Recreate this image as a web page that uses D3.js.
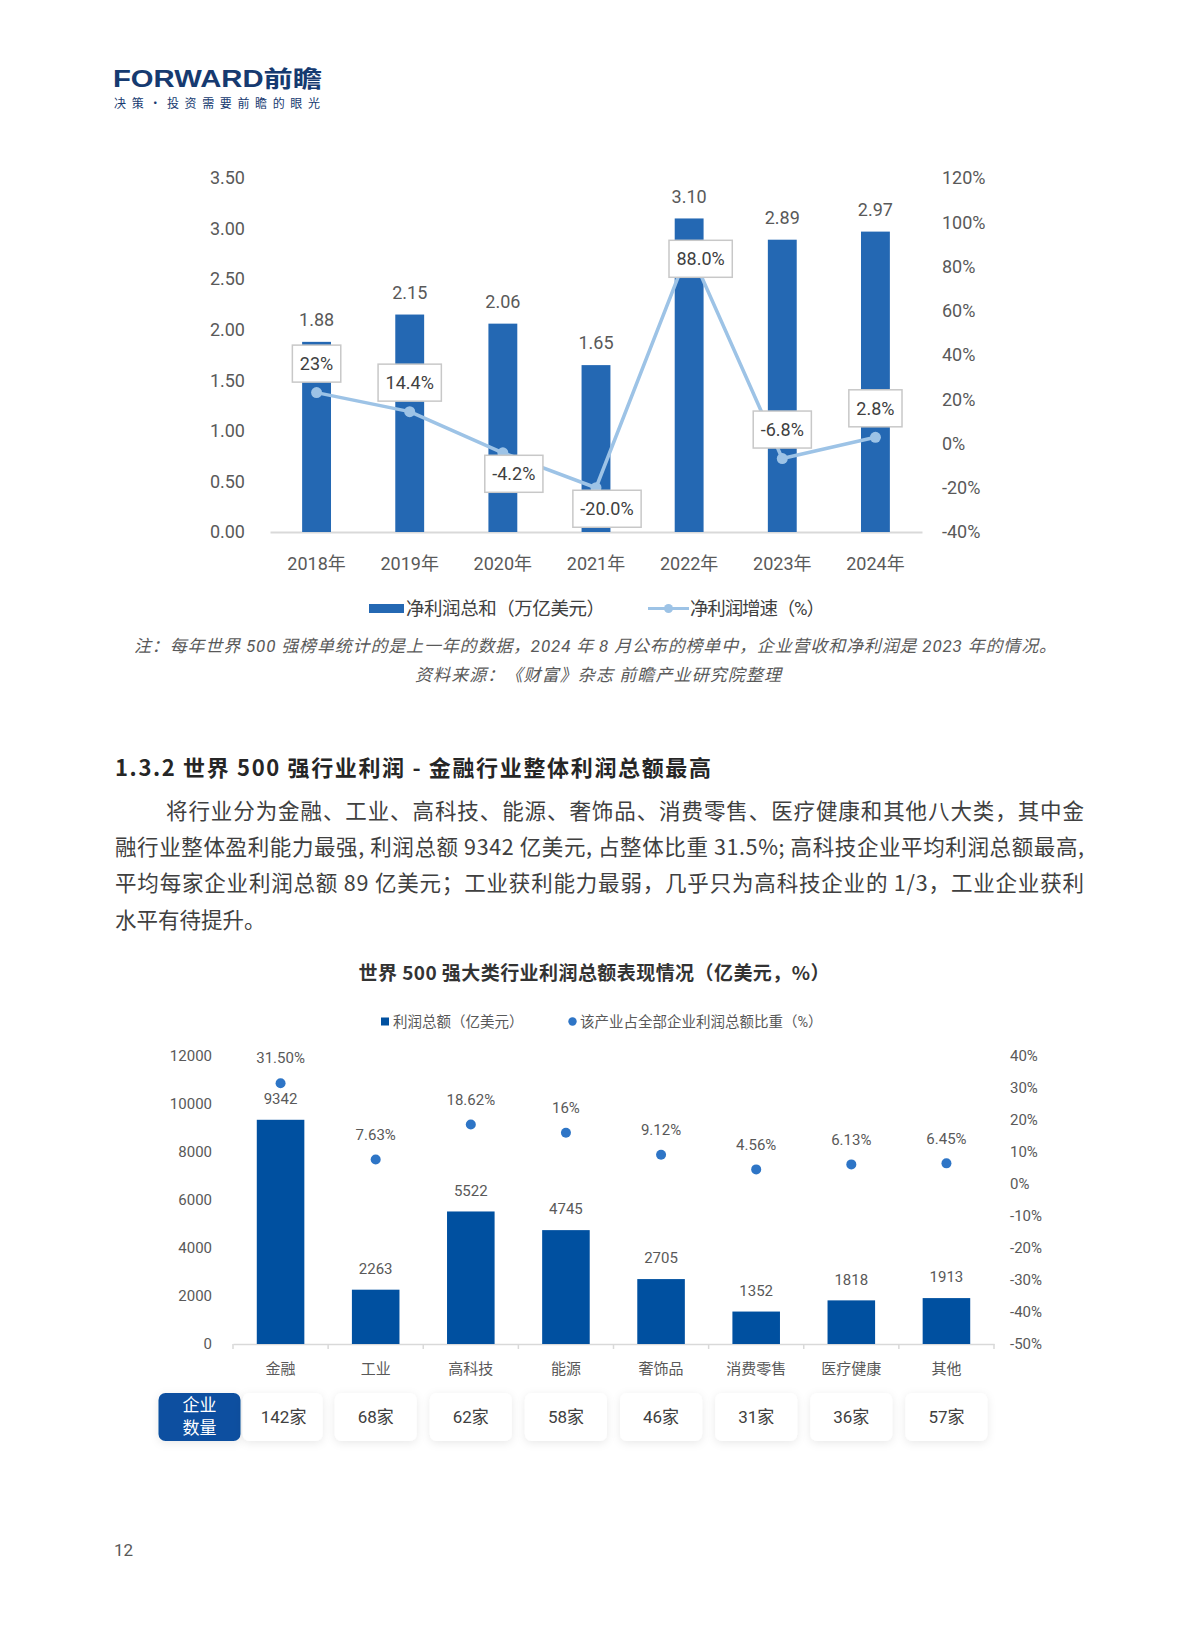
<!DOCTYPE html>
<html>
<head>
<meta charset="utf-8">
<script src="https://cdn.jsdelivr.net/npm/d3@7"></script>
<style>
  html, body { margin: 0; padding: 0; background: #ffffff; }
  svg { display: block; font-family: Roboto, "Noto Sans CJK SC", "Noto Sans", sans-serif; }
</style>
</head>
<body>
<svg id="page" width="1200" height="1628"></svg>
<script>
// ---------- Chart 1 data ----------
const years = ["2018年", "2019年", "2020年", "2021年", "2022年", "2023年", "2024年"];
const profitTotal = [1.88, 2.15, 2.06, 1.65, 3.10, 2.89, 2.97];
const profitGrowth = [23, 14.4, -4.2, -20.0, 88.0, -6.8, 2.8];
const growthLabels = ["23%", "14.4%", "-4.2%", "-20.0%", "88.0%", "-6.8%", "2.8%"];
const growthLabelSide = ["above", "above", "below", "below", "center", "above", "above"];
const leftTicks1 = [0, 0.5, 1, 1.5, 2, 2.5, 3, 3.5];
const rightTicks1 = [-40, -20, 0, 20, 40, 60, 80, 100, 120];
const legend1 = ["净利润总和（万亿美元）", "净利润增速（%）"];

// ---------- Chart 2 data ----------
const industries = ["金融", "工业", "高科技", "能源", "奢饰品", "消费零售", "医疗健康", "其他"];
const industryProfit = [9342, 2263, 5522, 4745, 2705, 1352, 1818, 1913];
const industryShare = [31.5, 7.63, 18.62, 16, 9.12, 4.56, 6.13, 6.45];
const shareLabels = ["31.50%", "7.63%", "18.62%", "16%", "9.12%", "4.56%", "6.13%", "6.45%"];
const companyCounts = [142, 68, 62, 58, 46, 31, 36, 57];
const leftTicks2 = [0, 2000, 4000, 6000, 8000, 10000, 12000];
const rightTicks2 = [-50, -40, -30, -20, -10, 0, 10, 20, 30, 40];
const legend2 = ["利润总额（亿美元）", "该产业占全部企业利润总额比重（%）"];

// ---------- Texts ----------
const noteText = "注：每年世界 500 强榜单统计的是上一年的数据，2024 年 8 月公布的榜单中，企业营收和净利润是 2023 年的情况。";
const sourceText = "资料来源：《财富》杂志 前瞻产业研究院整理";
const headingText = "1.3.2 世界 500 强行业利润 - 金融行业整体利润总额最高";
const paragraphLines = [
  "将行业分为金融、工业、高科技、能源、奢饰品、消费零售、医疗健康和其他八大类，其中金",
  "融行业整体盈利能力最强, 利润总额 9342 亿美元, 占整体比重 31.5%; 高科技企业平均利润总额最高,",
  "平均每家企业利润总额 89 亿美元；工业获利能力最弱，几乎只为高科技企业的 1/3，工业企业获利",
  "水平有待提升。"
];
const chart2Title = "世界 500 强大类行业利润总额表现情况（亿美元，%）";

const svg = d3.select("#page");
const defs = svg.append("defs");
const shadow = defs.append("filter").attr("id", "shadow")
  .attr("x", "-30%").attr("y", "-30%").attr("width", "160%").attr("height", "160%");
shadow.append("feDropShadow").attr("dx", 0).attr("dy", 2).attr("stdDeviation", 4)
  .attr("flood-color", "#000").attr("flood-opacity", 0.09);

// ---------- Logo ----------
const logo = svg.append("g");
logo.append("text").attr("x", 113).attr("y", 87)
  .attr("textLength", 209).attr("lengthAdjust", "spacingAndGlyphs")
  .style("font-family", "'Liberation Sans', 'Noto Sans CJK SC', sans-serif")
  .style("font-weight", 700).style("font-size", "23px").style("fill", "#163a70")
  .text("FORWARD前瞻");
logo.append("text").attr("x", 114).attr("y", 107.5)
  .attr("textLength", 206).attr("lengthAdjust", "spacing")
  .style("font-family", "'Noto Sans CJK SC', sans-serif")
  .style("font-size", "12px").style("fill", "#163a70")
  .text("决策·投资需要前瞻的眼光");

// ---------- Chart 1 ----------
const c1 = svg.append("g");
const x1 = d3.scaleBand().domain(years).range([270, 922]).paddingInner(0.69).paddingOuter(0.345);
const y1 = d3.scaleLinear().domain([0, 3.5]).range([532, 178]);
const y1r = d3.scaleLinear().domain([-40, 120]).range([532, 178]);
const textCol1 = "#595959";

const ax1l = c1.append("g").attr("transform", "translate(245,0)")
  .call(d3.axisLeft(y1).tickValues(leftTicks1).tickFormat(d3.format(".2f")).tickSize(0).tickPadding(0));
const ax1r = c1.append("g").attr("transform", "translate(942,0)")
  .call(d3.axisRight(y1r).tickValues(rightTicks1).tickFormat(d => d + "%").tickSize(0).tickPadding(0));
const ax1b = c1.append("g").attr("transform", "translate(0,532)")
  .call(d3.axisBottom(x1).tickSize(0).tickSizeOuter(0).tickPadding(25));
[ax1l, ax1r].forEach(a => a.select(".domain").remove());
ax1b.select(".domain").attr("stroke", "#d9d9d9").attr("stroke-width", 2);
[ax1l, ax1r, ax1b].forEach(a => a.selectAll("text")
  .style("font-size", "18px").style("fill", textCol1).style("font-family", "Roboto, 'Noto Sans CJK SC', sans-serif"));

c1.selectAll("rect.bar").data(profitTotal).join("rect").attr("class", "bar")
  .attr("x", (d, i) => x1(years[i])).attr("width", x1.bandwidth())
  .attr("y", d => y1(d)).attr("height", d => y1(0) - y1(d))
  .attr("fill", "#2468b3");

c1.selectAll("text.barval").data(profitTotal).join("text").attr("class", "barval")
  .attr("x", (d, i) => x1(years[i]) + x1.bandwidth() / 2)
  .attr("y", d => y1(d) - 22).attr("dy", "0.35em")
  .attr("text-anchor", "middle").style("font-size", "18px").style("fill", textCol1)
  .text(d => d.toFixed(2));

const cx1 = i => x1(years[i]) + x1.bandwidth() / 2;
c1.append("path").datum(profitGrowth)
  .attr("d", d3.line().x((d, i) => cx1(i)).y(d => y1r(d)))
  .attr("fill", "none").attr("stroke", "#9dc3e6").attr("stroke-width", 3.5)
  .attr("stroke-linejoin", "round");
c1.selectAll("circle.pt").data(profitGrowth).join("circle").attr("class", "pt")
  .attr("cx", (d, i) => cx1(i)).attr("cy", d => y1r(d)).attr("r", 5.5)
  .attr("fill", "#9dc3e6");

const labelOffset = {
  above: [0, -29],
  below: [11, 21],
  center: [11.5, 10]
};
profitGrowth.forEach((v, i) => {
  const off = labelOffset[growthLabelSide[i]];
  const lx = cx1(i) + off[0];
  const ly = y1r(v) + off[1];
  const g = c1.append("g");
  const rect = g.append("rect");
  const t = g.append("text").attr("x", lx).attr("y", ly).attr("dy", "0.35em")
    .attr("text-anchor", "middle").style("font-size", "18px").style("fill", "#404040")
    .text(growthLabels[i]);
  const w = t.node().getComputedTextLength() + 15;
  rect.attr("x", lx - w / 2).attr("y", ly - 18.5).attr("width", w).attr("height", 37)
    .attr("fill", "#fff").attr("stroke", "#c8c8c8").attr("stroke-width", 1.5);
});

// legend 1
const lg1 = c1.append("g");
const lgY = 608.5;
lg1.append("rect").attr("x", 369).attr("y", lgY - 4.5).attr("width", 35).attr("height", 9).attr("fill", "#2468b3");
lg1.append("text").attr("x", 406).attr("y", lgY).attr("dy", "0.35em")
  .attr("textLength", 199).attr("lengthAdjust", "spacing")
  .style("font-size", "18.5px").style("fill", "#404040").text(legend1[0]);
lg1.append("line").attr("x1", 648).attr("x2", 689).attr("y1", lgY).attr("y2", lgY)
  .attr("stroke", "#9dc3e6").attr("stroke-width", 3);
lg1.append("circle").attr("cx", 668.5).attr("cy", lgY).attr("r", 4.5).attr("fill", "#9dc3e6");
lg1.append("text").attr("x", 690).attr("y", lgY).attr("dy", "0.35em")
  .attr("textLength", 135).attr("lengthAdjust", "spacing")
  .style("font-size", "18.5px").style("fill", "#404040").text(legend1[1]);

// note + source
svg.append("text").attr("x", 595).attr("y", 652).attr("text-anchor", "middle")
  .attr("textLength", 922).attr("lengthAdjust", "spacing")
  .style("font-size", "17px").style("font-style", "italic").style("fill", "#595959")
  .text(noteText);
svg.append("text").attr("x", 598).attr("y", 681).attr("text-anchor", "middle")
  .attr("textLength", 366).attr("lengthAdjust", "spacing")
  .style("font-size", "17px").style("font-style", "italic").style("fill", "#595959")
  .text(sourceText);

// heading + paragraph
svg.append("text").attr("x", 115).attr("y", 776)
  .attr("textLength", 596).attr("lengthAdjust", "spacing")
  .style("font-family", "'Noto Sans CJK SC', sans-serif")
  .style("font-size", "22px").style("font-weight", 700).style("fill", "#262626")
  .text(headingText);
const paraStarts = [166, 115, 115, 115];
const paraYs = [819, 855, 891, 928];
paragraphLines.forEach((line, i) => {
  const t = svg.append("text").attr("x", paraStarts[i]).attr("y", paraYs[i])
    .style("font-family", "'Noto Sans CJK SC', sans-serif")
    .style("font-size", "21.5px").style("fill", "#404040").text(line);
  if (i < paragraphLines.length - 1) {
    t.attr("textLength", 1084 - paraStarts[i]).attr("lengthAdjust", "spacing");
  }
});

// ---------- Chart 2 ----------
const c2 = svg.append("g");
c2.append("text").attr("x", 594).attr("y", 973).attr("dy", "0.35em").attr("text-anchor", "middle")
  .attr("textLength", 471).attr("lengthAdjust", "spacing")
  .style("font-family", "'Noto Sans CJK SC', sans-serif")
  .style("font-size", "19px").style("font-weight", 700).style("fill", "#333333")
  .text(chart2Title);

// legend 2
c2.append("rect").attr("x", 381).attr("y", 1017.5).attr("width", 8).attr("height", 8).attr("fill", "#0050a0");
c2.append("text").attr("x", 393).attr("y", 1021.5).attr("dy", "0.35em")
  .style("font-size", "14.5px").style("fill", "#595959").text(legend2[0]);
c2.append("circle").attr("cx", 572.5).attr("cy", 1021.5).attr("r", 4.2).attr("fill", "#2e75c6");
c2.append("text").attr("x", 580).attr("y", 1021.5).attr("dy", "0.35em")
  .style("font-size", "14.5px").style("fill", "#595959").text(legend2[1]);

const x2 = d3.scaleBand().domain(industries).range([233, 994]).paddingInner(0.5).paddingOuter(0.25);
const y2 = d3.scaleLinear().domain([0, 12000]).range([1344, 1056]);
const y2r = d3.scaleLinear().domain([-50, 40]).range([1344, 1056]);
const textCol2 = "#595959";

const ax2l = c2.append("g").attr("transform", "translate(212,0)")
  .call(d3.axisLeft(y2).tickValues(leftTicks2).tickFormat(d3.format("d")).tickSize(0).tickPadding(0));
const ax2r = c2.append("g").attr("transform", "translate(1010,0)")
  .call(d3.axisRight(y2r).tickValues(rightTicks2).tickFormat(d => d + "%").tickSize(0).tickPadding(0));
const ax2b = c2.append("g").attr("transform", "translate(0,1344)")
  .call(d3.axisBottom(x2).tickSize(0).tickSizeOuter(0).tickPadding(19));
[ax2l, ax2r].forEach(a => a.select(".domain").remove());
ax2b.select(".domain").attr("stroke", "#d9d9d9").attr("stroke-width", 1.5);
[ax2l, ax2r, ax2b].forEach(a => a.selectAll("text")
  .style("font-size", "15px").style("fill", textCol2).style("font-family", "Roboto, 'Noto Sans CJK SC', sans-serif"));
// tick marks at category boundaries
const boundaries = d3.range(industries.length + 1).map(k => 233 + k * x2.step());
c2.selectAll("line.btick").data(boundaries).join("line").attr("class", "btick")
  .attr("x1", d => d).attr("x2", d => d).attr("y1", 1344).attr("y2", 1349)
  .attr("stroke", "#d9d9d9").attr("stroke-width", 1.5);

c2.selectAll("rect.bar2").data(industryProfit).join("rect").attr("class", "bar2")
  .attr("x", (d, i) => x2(industries[i])).attr("width", x2.bandwidth())
  .attr("y", d => y2(d)).attr("height", d => y2(0) - y2(d))
  .attr("fill", "#0050a0");
const cx2 = i => x2(industries[i]) + x2.bandwidth() / 2;
c2.selectAll("text.val2").data(industryProfit).join("text").attr("class", "val2")
  .attr("x", (d, i) => cx2(i)).attr("y", d => y2(d) - 21).attr("dy", "0.35em")
  .attr("text-anchor", "middle").style("font-size", "15px").style("fill", textCol2)
  .text(d => d);
c2.selectAll("circle.dot2").data(industryShare).join("circle").attr("class", "dot2")
  .attr("cx", (d, i) => cx2(i)).attr("cy", d => y2r(d)).attr("r", 5)
  .attr("fill", "#2e75c6");
c2.selectAll("text.pct2").data(industryShare).join("text").attr("class", "pct2")
  .attr("x", (d, i) => cx2(i)).attr("y", d => y2r(d) - 25).attr("dy", "0.35em")
  .attr("text-anchor", "middle").style("font-size", "15px").style("fill", textCol2)
  .text((d, i) => shareLabels[i]);

// company count row
const rowY = 1393, rowH = 48, boxW = 82;
c2.append("rect").attr("x", 158.5).attr("y", rowY).attr("width", 82).attr("height", rowH)
  .attr("rx", 7).attr("fill", "#0b50a0").attr("filter", "url(#shadow)");
c2.append("text").attr("x", 199.5).attr("y", 1405.5).attr("dy", "0.35em").attr("text-anchor", "middle")
  .style("font-size", "17px").style("fill", "#ffffff").text("企业");
c2.append("text").attr("x", 199.5).attr("y", 1428.5).attr("dy", "0.35em").attr("text-anchor", "middle")
  .style("font-size", "17px").style("fill", "#ffffff").text("数量");
c2.selectAll("rect.cnt").data(companyCounts).join("rect").attr("class", "cnt")
  .attr("x", (d, i) => cx2(i) - boxW / 2 + (i === 0 ? 3 : 0)).attr("y", rowY)
  .attr("width", (d, i) => i === 0 ? boxW - 2 : boxW).attr("height", rowH)
  .attr("rx", 7).attr("fill", "#ffffff").attr("filter", "url(#shadow)");
c2.selectAll("text.cnt").data(companyCounts).join("text").attr("class", "cnt")
  .attr("x", (d, i) => cx2(i) + (i === 0 ? 3 : 0)).attr("y", rowY + rowH / 2).attr("dy", "0.35em")
  .attr("text-anchor", "middle").style("font-size", "17px").style("fill", "#404040")
  .text(d => d + "家");

// page number
svg.append("text").attr("x", 114).attr("y", 1556)
  .style("font-size", "17px").style("fill", "#595959").text("12");
</script>
</body>
</html>
